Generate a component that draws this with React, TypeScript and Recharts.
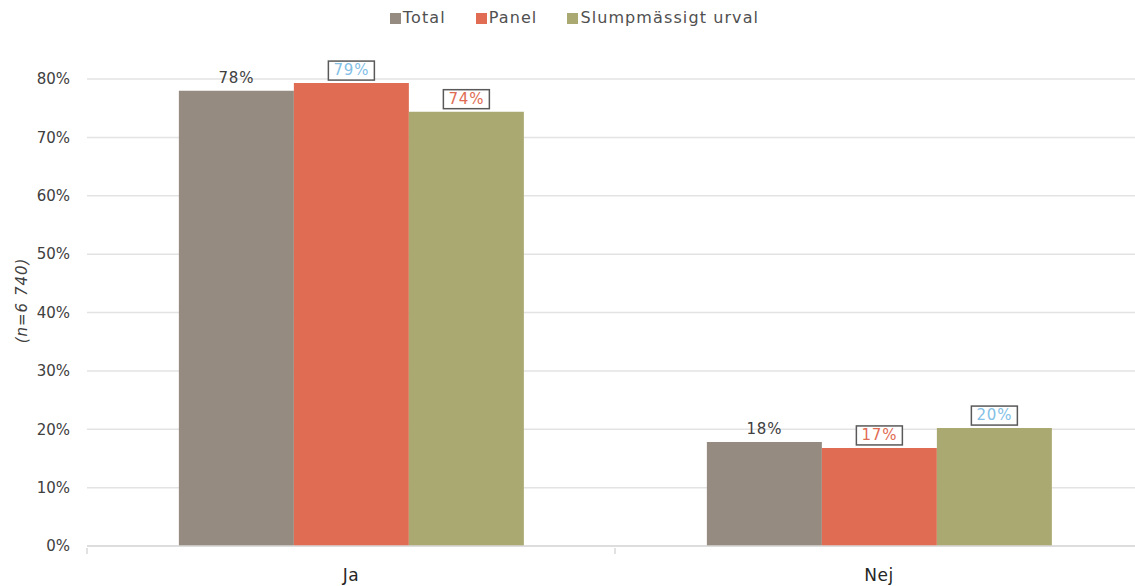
import React from "react";
import {
  Bar,
  BarChart,
  CartesianGrid,
  LabelList,
  Legend,
  XAxis,
  YAxis,
} from "recharts";

const categories = ["Ja", "Nej"];
const seriesNames = ["Total", "Panel", "Slumpmässigt urval"];
const totalValues = [78, 17.8];
const panelValues = [79.3, 16.8];
const randomValues = [74.4, 20.2];
const totalLabels = ["78%", "18%"];
const panelLabels = ["79%", "17%"];
const randomLabels = ["74%", "20%"];
const yTicks = [0, 10, 20, 30, 40, 50, 60, 70, 80];

const FONT = "'DejaVu Sans', sans-serif";
const INK = "#404040";
const BLUE = "#83c0e6";
const RED = "#e06c53";

const data = categories.map((name, i) => ({
  name,
  total: totalValues[i],
  panel: panelValues[i],
  random: randomValues[i],
}));

function plainLabel(labels: string[]) {
  return (props: any) => {
    const { x, y, width, index } = props;
    return (
      <text
        x={x + width / 2}
        y={y - 8}
        textAnchor="middle"
        fill={INK}
        fontSize={15}
        letterSpacing={0.8}
        fontFamily={FONT}
      >
        {labels[index]}
      </text>
    );
  };
}

function boxedLabel(labels: string[], colors: string[]) {
  return (props: any) => {
    const { x, y, width, index } = props;
    const cx = x + width / 2;
    const w = 46;
    const h = 19;
    return (
      <g>
        <rect
          x={cx - w / 2}
          y={y - h - 3}
          width={w}
          height={h}
          fill="#ffffff"
          stroke="#595959"
          strokeWidth={1.5}
        />
        <text
          x={cx}
          y={y - 8}
          textAnchor="middle"
          fill={colors[index]}
          fontSize={15}
          letterSpacing={0.8}
          fontFamily={FONT}
        >
          {labels[index]}
        </text>
      </g>
    );
  };
}

function CategoryTick(props: any) {
  const { x, y, payload, index } = props;
  const half = payload.offset ?? 0;
  return (
    <g>
      <line x1={x - half} x2={x - half} y1={y - 6} y2={y} stroke="#d9d9d9" strokeWidth={1.5} />
      {index === categories.length - 1 && (
        <line x1={x + half} x2={x + half} y1={y - 6} y2={y} stroke="#d9d9d9" strokeWidth={1.5} />
      )}
      <text
        x={x}
        y={y + 27}
        textAnchor="middle"
        fill="#262626"
        fontSize={17}
        letterSpacing={0.5}
        fontFamily={FONT}
      >
        {payload.value}
      </text>
    </g>
  );
}

function AxisTitle(props: any) {
  const { viewBox } = props;
  const cx = viewBox.x + 22;
  const cy = viewBox.y + viewBox.height / 2 - 12;
  return (
    <text
      x={cx}
      y={cy}
      transform={`rotate(-90, ${cx}, ${cy})`}
      textAnchor="middle"
      dominantBaseline="central"
      fill={INK}
      fontSize={15}
      letterSpacing={1}
      fontStyle="italic"
      fontFamily={FONT}
    >
      (n=6 740)
    </text>
  );
}

export default function App() {
  return (
    <div style={{ position: "absolute", left: 0, top: 0, width: 1135, height: 586, overflow: "hidden" }}>
      <BarChart
        width={1145}
        height={586}
        data={data}
        margin={{ top: 60, right: 2, left: 0, bottom: 8 }}
        barCategoryGap="17.4%"
        barGap={0}
      >
        <CartesianGrid stroke="#e3e3e3" strokeWidth={1.5} vertical={false} />
        <Legend
          verticalAlign="top"
          align="center"
          iconType="square"
          iconSize={11}
          itemSorter={(item: any) => seriesNames.indexOf(item.value)}
          wrapperStyle={{ fontFamily: FONT, fontSize: 16, color: INK, top: 8, left: 18 }}
          formatter={(value: string) => (
            <span style={{ color: "#505050", letterSpacing: 1.1, marginLeft: -2, marginRight: 20 }}>{value}</span>
          )}
        />
        <XAxis
          dataKey="name"
          axisLine={{ stroke: "#d9d9d9", strokeWidth: 1.5 }}
          tickLine={false}
          height={32}
          tick={<CategoryTick />}
          interval={0}
        />
        <YAxis
          width={87}
          domain={[0, 80]}
          ticks={yTicks}
          axisLine={false}
          tickLine={false}
          tickMargin={11}
          tickFormatter={(v: number) => `${v}%`}
          tick={{ fill: INK, fontSize: 15, fontFamily: FONT }}
          label={<AxisTitle />}
        />
        <Bar dataKey="total" name="Total" fill="#958b80" isAnimationActive={false}>
          <LabelList dataKey="total" content={plainLabel(totalLabels)} />
        </Bar>
        <Bar dataKey="panel" name="Panel" fill={RED} isAnimationActive={false}>
          <LabelList dataKey="panel" content={boxedLabel(panelLabels, [BLUE, RED])} />
        </Bar>
        <Bar dataKey="random" name="Slumpmässigt urval" fill="#aaa972" isAnimationActive={false}>
          <LabelList dataKey="random" content={boxedLabel(randomLabels, [RED, BLUE])} />
        </Bar>
      </BarChart>
    </div>
  );
}
